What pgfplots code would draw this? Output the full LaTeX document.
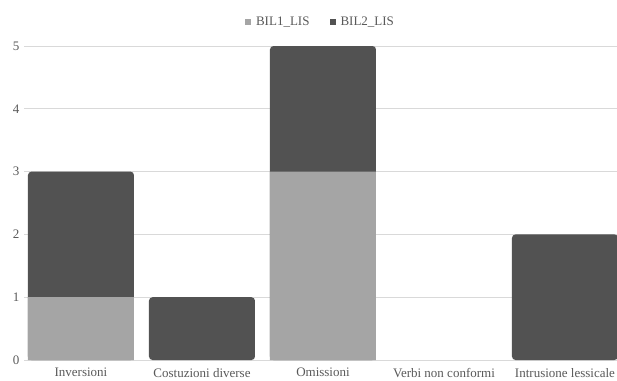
\documentclass[border=0pt]{standalone}
\usepackage{pgfplots}
\usepackage{pgfplotstable}
\pgfplotsset{compat=1.18}
\usepackage{fontspec}
\setmainfont{Liberation Serif}

\definecolor{lightbar}{HTML}{A5A5A5}
\definecolor{darkbar}{HTML}{525252}
\definecolor{gridc}{HTML}{D9D9D9}
\definecolor{txt}{HTML}{595959}

% counts per category: BIL1_LIS (b1) and BIL2_LIS (b2)
\pgfplotstableread{
x b1 b2
0 1 2
1 0 1
2 3 2
3 0 0
4 0 2
}\errors

\begin{document}
\begin{tikzpicture}
\begin{axis}[
  scale only axis, width=593pt, height=314pt,
  xmin=-0.471, xmax=4.43, ymin=0, ymax=5,
  ybar, bar width=106pt, bar shift=0pt,
  axis line style={draw=none}, tick style={draw=none},
  ytick={0,1,2,3,4,5},
  ymajorgrids, grid style={gridc, line width=0.7pt},
  xtick={0,1,2,3,4},
  xticklabels={Inversioni, Costuzioni diverse, Omissioni, Verbi non conformi, Intrusione lessicale},
  ticklabel style={font=\fontsize{13}{15}\selectfont, text=txt},
  xticklabel style={yshift=-0.5pt},
  yticklabel style={xshift=-1pt},
  /pgf/number format/assume math mode=true,
  restrict y to domain=0.01:10,
  legend style={at={(0.5,1)}, anchor=south, yshift=16pt, legend columns=2, draw=none,
    font=\fontsize{13}{15}\selectfont, text=txt, inner sep=1pt,
    /tikz/every even column/.append style={column sep=18pt}},
  legend image code/.code={\fill[#1] (0pt,-3pt) rectangle (6pt,3pt); \path (9pt,0pt);},
  legend cell align=left,
]
\coordinate (bl) at (rel axis cs:0,0);
% stack total (dark segment shows above the light one)
\addplot[fill=darkbar, draw=none, rounded corners=3.5pt, forget plot]
  table[x=x, y expr=\thisrow{b1}+\thisrow{b2}] {\errors};
% lower segment
\addplot[fill=lightbar, draw=none, forget plot]
  table[x=x, y=b1] {\errors};
\addlegendimage{fill=lightbar, draw=none}
\addlegendentry{BIL1\_LIS}
\addlegendimage{fill=darkbar, draw=none}
\addlegendentry{BIL2\_LIS}
\end{axis}
\pgfresetboundingbox
\path[use as bounding box] (bl) ++(-24pt,-20pt) rectangle ++(617pt,380pt);
\end{tikzpicture}
\end{document}
